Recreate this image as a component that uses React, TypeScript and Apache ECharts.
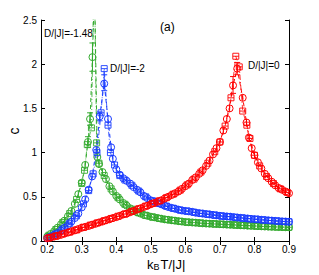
import React, { useEffect, useRef } from "react";
import * as echarts from "echarts";

const xTicks = [0.2, 0.3, 0.4, 0.5, 0.6, 0.7, 0.8, 0.9];

const redCircles: [number, number][] = [
  [0.20,0.03],[0.21,0.04],[0.22,0.05],[0.23,0.06],[0.24,0.07],[0.25,0.085],[0.26,0.095],[0.27,0.11],[0.28,0.12],[0.29,0.135],
  [0.30,0.15],[0.31,0.16],[0.32,0.17],[0.33,0.185],[0.34,0.195],[0.35,0.21],[0.36,0.22],[0.37,0.235],[0.38,0.245],[0.39,0.26],
  [0.40,0.27],[0.41,0.285],[0.42,0.30],[0.43,0.31],[0.44,0.325],[0.45,0.34],[0.46,0.355],[0.47,0.37],[0.48,0.385],[0.49,0.40],
  [0.50,0.415],[0.51,0.43],[0.52,0.445],[0.53,0.46],[0.54,0.48],[0.55,0.50],[0.56,0.52],[0.57,0.54],[0.58,0.56],[0.59,0.59],
  [0.60,0.62],[0.61,0.65],[0.62,0.69],[0.63,0.72],[0.64,0.76],[0.65,0.80],[0.66,0.85],[0.67,0.91],[0.68,0.98],[0.69,1.05],
  [0.70,1.12],[0.71,1.25],[0.72,1.38],[0.728,1.50],[0.738,1.76],[0.75,1.95],[0.766,1.62],[0.777,1.34],[0.784,1.17],[0.792,1.05],
  [0.80,0.97],[0.81,0.89],[0.82,0.82],[0.83,0.76],[0.84,0.71],[0.85,0.67],[0.86,0.63],[0.87,0.60],[0.88,0.58],[0.89,0.56],[0.90,0.54]
];
const redSquares: [number, number][] = [
  [0.205,0.035],[0.225,0.055],[0.245,0.08],[0.265,0.10],[0.285,0.125],[0.305,0.155],[0.325,0.18],[0.345,0.205],[0.365,0.23],[0.385,0.255],
  [0.405,0.28],[0.425,0.305],[0.445,0.335],[0.465,0.365],[0.485,0.395],[0.505,0.425],[0.525,0.455],[0.545,0.49],[0.565,0.53],[0.585,0.575],
  [0.605,0.635],[0.625,0.70],[0.645,0.78],[0.665,0.88],[0.685,1.01],[0.70,1.12],[0.715,1.30],[0.732,1.62],[0.746,2.09],[0.756,1.97],
  [0.766,1.47],[0.778,1.31],[0.787,1.16],[0.80,0.97],[0.815,0.85],[0.835,0.73],[0.855,0.65],[0.875,0.59],[0.895,0.55]
];
const blueCircles: [number, number][] = [
  [0.20,0.03],[0.21,0.05],[0.22,0.07],[0.23,0.09],[0.24,0.12],[0.25,0.15],[0.26,0.18],[0.27,0.22],[0.28,0.26],[0.29,0.31],
  [0.30,0.38],[0.31,0.47],[0.32,0.58],[0.33,0.73],[0.342,1.03],[0.352,1.41],[0.365,1.78],[0.376,1.38],[0.385,1.06],[0.39,0.93],
  [0.40,0.81],[0.41,0.75],[0.42,0.71],[0.43,0.68],[0.44,0.65],[0.45,0.61],[0.46,0.58],[0.47,0.55],[0.48,0.51],[0.49,0.485],
  [0.50,0.46],[0.51,0.445],[0.52,0.43],[0.53,0.415],[0.54,0.40],[0.55,0.385],[0.56,0.375],[0.57,0.365],[0.58,0.355],[0.59,0.345],
  [0.60,0.34],[0.61,0.335],[0.62,0.33],[0.63,0.32],[0.64,0.315],[0.65,0.31],[0.66,0.305],[0.67,0.30],[0.68,0.295],[0.69,0.29],
  [0.70,0.285],[0.71,0.28],[0.72,0.278],[0.73,0.275],[0.74,0.27],[0.75,0.265],[0.76,0.262],[0.77,0.258],[0.78,0.255],[0.79,0.25],
  [0.80,0.247],[0.81,0.244],[0.82,0.24],[0.83,0.237],[0.84,0.234],[0.85,0.231],[0.86,0.228],[0.87,0.225],[0.88,0.222],[0.89,0.22],[0.90,0.218]
];
const blueSquares: [number, number][] = [
  [0.205,0.04],[0.225,0.08],[0.245,0.135],[0.265,0.20],[0.285,0.285],[0.305,0.42],[0.32,0.57],[0.333,0.76],[0.344,1.0],[0.356,1.45],
  [0.365,1.95],[0.376,1.31],[0.383,1.0],[0.395,0.86],[0.41,0.74],[0.425,0.69],[0.445,0.63],[0.465,0.565],[0.485,0.50],[0.505,0.455],
  [0.525,0.425],[0.545,0.395],[0.565,0.37],[0.585,0.35],[0.605,0.338],[0.625,0.325],[0.645,0.313],[0.665,0.303],[0.685,0.293],[0.705,0.283],
  [0.725,0.276],[0.745,0.268],[0.765,0.26],[0.785,0.252],[0.805,0.246],[0.825,0.238],[0.845,0.232],[0.865,0.226],[0.885,0.221],[0.90,0.218]
];
const greenCircles: [number, number][] = [
  [0.20,0.05],[0.21,0.08],[0.22,0.11],[0.23,0.15],[0.24,0.19],[0.25,0.23],[0.26,0.28],[0.27,0.34],[0.28,0.42],[0.29,0.53],
  [0.30,0.66],[0.31,0.86],[0.318,1.12],[0.324,1.38],[0.331,2.08],[0.337,2.9],[0.345,0.95],[0.35,0.87],[0.36,0.78],[0.37,0.70],
  [0.38,0.62],[0.39,0.56],[0.40,0.51],[0.41,0.47],[0.42,0.43],[0.43,0.40],[0.44,0.37],[0.45,0.345],[0.46,0.325],[0.47,0.31],
  [0.48,0.295],[0.49,0.285],[0.50,0.275],[0.51,0.268],[0.52,0.26],[0.53,0.252],[0.54,0.245],[0.55,0.24],[0.56,0.235],[0.57,0.23],
  [0.58,0.225],[0.59,0.22],[0.60,0.215],[0.61,0.212],[0.62,0.21],[0.63,0.207],[0.64,0.204],[0.65,0.20],[0.66,0.198],[0.67,0.196],
  [0.68,0.194],[0.69,0.192],[0.70,0.19],[0.71,0.188],[0.72,0.186],[0.73,0.184],[0.74,0.182],[0.75,0.18],[0.76,0.178],[0.77,0.176],
  [0.78,0.174],[0.79,0.172],[0.80,0.17],[0.81,0.168],[0.82,0.166],[0.83,0.164],[0.84,0.163],[0.85,0.161],[0.86,0.16],[0.87,0.158],
  [0.88,0.157],[0.89,0.156],[0.90,0.155]
];
const greenSquares: [number, number][] = [
  [0.205,0.065],[0.225,0.13],[0.245,0.21],[0.265,0.31],[0.285,0.47],[0.30,0.65],[0.308,0.80],[0.316,1.09],[0.328,1.28],[0.336,3.2],
  [0.343,1.11],[0.35,0.88],[0.365,0.74],[0.385,0.59],[0.405,0.49],[0.425,0.415],[0.445,0.36],[0.465,0.32],[0.485,0.29],[0.505,0.27],
  [0.525,0.255],[0.545,0.243],[0.565,0.232],[0.585,0.222],[0.605,0.213],[0.625,0.208],[0.645,0.202],[0.665,0.197],[0.685,0.193],[0.705,0.189],
  [0.725,0.185],[0.745,0.181],[0.765,0.177],[0.785,0.173],[0.805,0.169],[0.825,0.165],[0.845,0.162],[0.865,0.159],[0.885,0.157],[0.90,0.155]
];

const greenErr: [number, number, number][] = [[0.331, 1.92, 2.24], [0.324, 1.31, 1.45], [0.318, 1.06, 1.18]];
const blueErr: [number, number, number][] = [[0.365, 1.70, 1.88], [0.352, 1.36, 1.46]];
const redErr: [number, number, number][] = [[0.738, 1.67, 1.86], [0.75, 1.88, 2.02]];

const RED = "#ff0000";
const BLUE = "#1a3cff";
const GREEN = "#33aa2e";
const FONT = "Liberation Sans";

const CIRCLE_SYM = "path://M0,5A5,5 0 1,0 10,5A5,5 0 1,0 0,5ZM5,0L5,10";
const SQUARE_SYM = "path://M0,0L10,0L10,10L0,10ZM0,5L10,5";

function circleSeries(data: [number, number][], color: string) {
  return {
    type: "line",
    data,
    symbol: CIRCLE_SYM,
    symbolSize: 7,
    showAllSymbol: true,
    itemStyle: { color: "rgba(0,0,0,0)", borderColor: color, borderWidth: 1 },
    lineStyle: { color, width: 1, type: [4, 3] },
    clip: true,
  };
}
function squareSeries(data: [number, number][], color: string) {
  return {
    type: "line",
    data,
    symbol: SQUARE_SYM,
    symbolSize: 6,
    showAllSymbol: true,
    itemStyle: { color: "rgba(0,0,0,0)", borderColor: color, borderWidth: 0.9 },
    lineStyle: { color, width: 0.8, type: [5, 2, 1, 2] },
    clip: true,
  };
}
function errSeries(data: [number, number, number][], color: string) {
  return {
    type: "custom",
    data,
    encode: { x: 0, y: [1, 2] },
    clip: true,
    renderItem: (params: any, api: any) => {
      const x = api.value(0);
      const p1 = api.coord([x, api.value(1)]);
      const p2 = api.coord([x, api.value(2)]);
      const w = 3;
      const st = { stroke: color, lineWidth: 1 };
      return {
        type: "group",
        children: [
          { type: "line", shape: { x1: p1[0], y1: p1[1], x2: p2[0], y2: p2[1] }, style: st },
          { type: "line", shape: { x1: p1[0] - w, y1: p1[1], x2: p1[0] + w, y2: p1[1] }, style: st },
          { type: "line", shape: { x1: p2[0] - w, y1: p2[1], x2: p2[0] + w, y2: p2[1] }, style: st },
        ],
      };
    },
  };
}

export default function App() {
  const ref = useRef<HTMLDivElement>(null);
  useEffect(() => {
    if (!ref.current) return;
    const chart = echarts.init(ref.current, undefined, { renderer: "svg" });
    const axisLine = { show: true, lineStyle: { color: "#000", width: 1 } };
    const label = { color: "#000", fontSize: 10, fontFamily: FONT };
    chart.setOption({
      animation: false,
      backgroundColor: "#fff",
      grid: { left: 41, right: 30, top: 20, bottom: 34 },
      xAxis: [
        {
          type: "value", min: 0.182, max: 0.9, axisLine,
          axisTick: { inside: true, length: 4, customValues: xTicks, lineStyle: { color: "#000" } },
          axisLabel: { ...label, margin: 3, customValues: xTicks, formatter: (v: number) => v.toFixed(1) },
          splitLine: { show: false },
        },
        {
          type: "value", position: "top", min: 0.182, max: 0.9, axisLine,
          axisTick: { inside: true, length: 4, customValues: xTicks, lineStyle: { color: "#000" } },
          axisLabel: { show: false, customValues: xTicks },
          splitLine: { show: false },
        },
      ],
      yAxis: [
        {
          type: "value", min: 0, max: 2.5, interval: 0.5, axisLine,
          axisTick: { inside: true, length: 4, lineStyle: { color: "#000" } },
          axisLabel: { ...label, margin: 4 },
          splitLine: { show: false },
        },
        {
          type: "value", position: "right", min: 0, max: 2.5, interval: 0.5, axisLine,
          axisTick: { inside: true, length: 4, lineStyle: { color: "#000" } },
          axisLabel: { show: false },
          splitLine: { show: false },
        },
      ],
      series: [
        squareSeries(greenSquares, GREEN),
        circleSeries(greenCircles, GREEN),
        errSeries(greenErr, GREEN),
        squareSeries(blueSquares, BLUE),
        circleSeries(blueCircles, BLUE),
        errSeries(blueErr, BLUE),
        squareSeries(redSquares, RED),
        circleSeries(redCircles, RED),
        errSeries(redErr, RED),
      ],
      graphic: [
        { type: "text", x: 44, y: 33, style: { text: "D/|J|=-1.48", fontSize: 10, fontFamily: FONT, fill: "#000", verticalAlign: "middle" } },
        { type: "text", x: 110, y: 68, style: { text: "D/|J|=-2", fontSize: 10, fontFamily: FONT, fill: "#000", verticalAlign: "middle" } },
        { type: "text", x: 248, y: 65, style: { text: "D/|J|=0", fontSize: 10, fontFamily: FONT, fill: "#000", verticalAlign: "middle" } },
        { type: "text", x: 160, y: 27, style: { text: "(a)", fontSize: 12, fontFamily: FONT, fill: "#000", verticalAlign: "middle" } },
        { type: "text", x: 14, y: 131, rotation: Math.PI / 2, style: { text: "c", fontSize: 14, fontFamily: FONT, fill: "#000", align: "center", verticalAlign: "middle" } },
        {
          type: "text", x: 147, y: 264,
          style: {
            text: "{k|k}{b|B}{t|T/|J|}",
            fontFamily: FONT, fill: "#000", verticalAlign: "middle",
            rich: {
              k: { fontSize: 13, lineHeight: 15, fontFamily: FONT, fill: "#000" },
              b: { fontSize: 9, lineHeight: 9, verticalAlign: "bottom", fontFamily: FONT, fill: "#000", padding: [0, 1, 0, 0] },
              t: { fontSize: 13, lineHeight: 15, fontFamily: FONT, fill: "#000" },
            },
          },
        },
      ],
    });
    return () => chart.dispose();
  }, []);
  return (
    <div
      ref={ref}
      style={{ position: "fixed", left: 0, top: 0, width: 319, height: 275, background: "#fff" }}
    />
  );
}
